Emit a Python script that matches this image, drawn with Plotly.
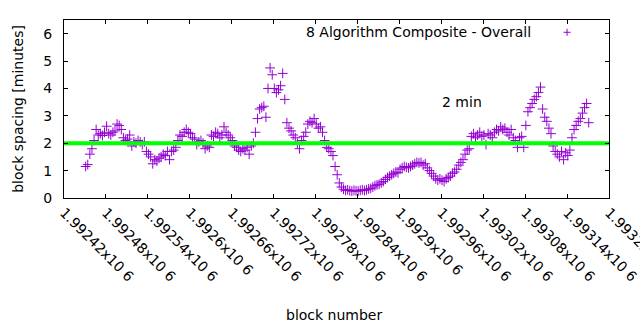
import numpy as np
import plotly.graph_objects as go

# Block spacing (minutes) for every third block, starting at block 1992451
first_block = 1992451
block_step = 3
spacing = [
    1.15, 1.22, 1.60, 1.80, 2.10, 2.50, 2.30, 2.35, 2.28, 2.40,
    2.62, 2.35, 2.30, 2.40, 2.45, 2.70, 2.65, 2.50, 2.20, 2.10,
    2.15, 2.30, 1.90, 2.05, 2.00, 2.10, 2.05, 1.95, 2.05, 1.70,
    1.60, 1.50, 1.25, 1.40, 1.35, 1.45, 1.50, 1.60, 1.55, 1.70,
    1.40, 1.70, 1.75, 1.85, 2.10, 2.30, 2.25, 2.40, 2.50, 2.40,
    2.35, 2.20, 2.15, 1.95, 2.05, 2.10, 2.00, 1.80, 1.90, 1.85,
    2.30, 2.25, 2.40, 2.35, 2.20, 2.30, 2.60, 2.40, 2.30, 2.20,
    2.10, 1.90, 1.85, 1.75, 1.70, 1.80, 1.75, 1.85, 1.60, 1.90,
    2.00, 2.40, 2.90, 3.25, 3.30, 3.35, 2.95, 4.00, 4.75, 4.50,
    4.00, 3.85, 3.95, 4.10, 4.55, 3.60, 2.75, 2.55, 2.45, 2.30,
    2.20, 2.00, 1.80, 2.10, 2.25, 2.40, 2.70, 2.80, 2.75, 2.90,
    2.70, 2.55, 2.60, 2.40, 2.10, 1.85, 1.80, 1.70, 1.55, 1.15,
    0.85, 0.55, 0.40, 0.32, 0.28, 0.30, 0.27, 0.25, 0.28, 0.26,
    0.25, 0.28, 0.30, 0.27, 0.30, 0.33, 0.35, 0.40, 0.45, 0.48,
    0.50, 0.55, 0.60, 0.68, 0.75, 0.80, 0.85, 0.90, 0.95, 0.92,
    1.05, 1.10, 1.15, 1.12, 1.10, 1.15, 1.20, 1.25, 1.30, 1.28,
    1.30, 1.20, 1.25, 1.10, 1.00, 0.90, 0.80, 0.70, 0.65, 0.70,
    0.65, 0.60, 0.70, 0.75, 0.80, 0.90, 0.95, 1.05, 1.20, 1.30,
    1.40, 1.60, 1.75, 1.80, 2.25, 2.35, 2.20, 2.30, 2.40, 2.25,
    2.30, 1.95, 2.35, 2.30, 2.20, 2.40, 2.50, 2.45, 2.60, 2.50,
    2.55, 2.40, 2.30, 2.50, 2.20, 2.10, 1.85, 2.20, 2.25, 1.85,
    2.65, 3.15, 3.30, 3.45, 3.60, 3.70, 3.85, 4.05, 3.25, 2.95,
    2.80, 2.55, 2.35, 1.90, 1.70, 1.60, 1.50, 1.70, 1.40, 1.65,
    1.55, 1.75, 2.20, 2.50, 2.65, 2.80, 2.90, 3.10, 3.30, 3.45,
    2.75,
]
blocks = first_block + block_step * np.arange(len(spacing))

target_minutes = 2
x_range = [1992420, 1993200]
y_range = [0, 6.5]
x_tickvals = list(range(1992420, 1993201, 60))
x_ticktext = [f"{v / 1e6:g}x10 6" for v in x_tickvals]
y_tickvals = [0, 1, 2, 3, 4, 5, 6]

series_name = "8 Algorithm Composite - Overall"
target_label = "2 min"

PURPLE = "#9400d3"
GREEN = "#00ff00"
FONT = "DejaVu Sans, Liberation Sans, sans-serif"

fig = go.Figure()
fig.add_trace(go.Scatter(
    x=blocks, y=spacing, mode="markers", name=series_name,
    marker=dict(symbol="cross-thin", size=7, color=PURPLE,
                line=dict(color=PURPLE, width=1)),
    showlegend=False,
))
fig.add_trace(go.Scatter(
    x=x_range, y=[target_minutes, target_minutes], mode="lines",
    line=dict(color=GREEN, width=4), showlegend=False,
))

axis_common = dict(
    showline=True, linecolor="black", linewidth=1, mirror="ticks",
    ticks="inside", ticklen=4, tickcolor="black", tickwidth=1,
    showgrid=False, zeroline=False, automargin=False,
    tickfont=dict(family=FONT, size=14, color="black"),
)
fig.update_xaxes(range=x_range, tickvals=x_tickvals, ticktext=x_ticktext,
                 tickangle=45, ticklabeloverflow="allow", **axis_common)
fig.update_yaxes(range=y_range, tickvals=y_tickvals, ticklabelstandoff=8,
                 title=dict(text="block spacing [minutes]",
                            font=dict(family=FONT, size=14, color="black"),
                            standoff=16),
                 **axis_common)

# key entry: label text with its sample marker on the right
fig.add_annotation(x=0.8606, y=0.931, xref="paper", yref="paper",
                   text=series_name, showarrow=False, xanchor="right",
                   yanchor="middle",
                   font=dict(family=FONT, size=14, color="black"))
for x0, y0, x1, y1 in [(-3.5, 0, 3.5, 0), (0, -3.5, 0, 3.5)]:
    fig.add_shape(type="line", xref="paper", yref="paper",
                  xsizemode="pixel", ysizemode="pixel",
                  xanchor=0.923, yanchor=0.931,
                  x0=x0, x1=x1, y0=y0, y1=y1,
                  line=dict(color=PURPLE, width=1))

fig.add_annotation(x=1992990, y=3.52, text=target_label, showarrow=False,
                   font=dict(family=FONT, size=14, color="black"))
fig.add_annotation(x=0.495, y=-0.66, xref="paper", yref="paper",
                   text="block number", showarrow=False, yanchor="middle",
                   font=dict(family=FONT, size=14, color="black"))

fig.update_layout(
    width=640, height=330,
    margin=dict(l=64, r=31, t=20, b=132),
    plot_bgcolor="white", paper_bgcolor="white",
    font=dict(family=FONT, size=14, color="black"),
)

fig.write_html("out.html")
